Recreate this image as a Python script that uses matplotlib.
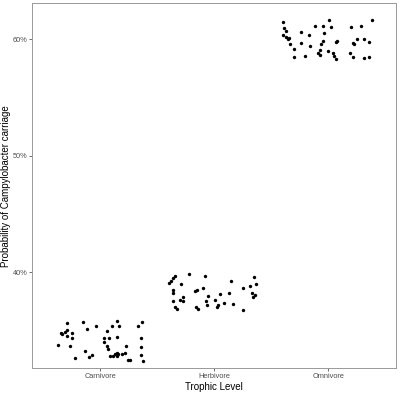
import numpy as np
import matplotlib
matplotlib.use("Agg")
from matplotlib import pyplot as plt
from matplotlib.ticker import PercentFormatter

plt.rcParams['font.family'] = ['Liberation Sans', 'DejaVu Sans']

categories = ['Carnivore', 'Herbivore', 'Omnivore']

# jitter offsets (fraction of category spacing) and probabilities
carn_jit = [-0.296, -0.150, -0.040, -0.113, -0.292, -0.307, -0.348, -0.339, -0.249, -0.290,
            -0.249, -0.374, -0.263, -0.136, -0.223, -0.070, -0.096, 0.145, 0.102, 0.163,
            0.330, 0.365, 0.061, 0.030, 0.078, 0.143, 0.035, 0.354, 0.061, 0.070,
            0.223, 0.360, 0.143, 0.130, 0.151, 0.087, 0.113, 0.148, 0.189, 0.221,
            0.354, 0.243, 0.261, 0.374]
carn_val = [0.3567, 0.3571, 0.3536, 0.3513, 0.3502, 0.3490, 0.3479, 0.3470, 0.3482, 0.3456,
            0.3436, 0.3379, 0.3367, 0.3322, 0.3267, 0.3288, 0.3273, 0.3585, 0.3542, 0.3539,
            0.3542, 0.3573, 0.3494, 0.3436, 0.3436, 0.3445, 0.3402, 0.3439, 0.3365, 0.3344,
            0.3367, 0.3361, 0.3310, 0.3296, 0.3299, 0.3284, 0.3282, 0.3279, 0.3299, 0.3305,
            0.3293, 0.3247, 0.3247, 0.3239]

herb_jit = [-0.342, -0.362, -0.379, -0.397, -0.220, -0.078, -0.292, -0.098, -0.148, -0.170,
            -0.359, -0.359, -0.057, -0.275, -0.304, -0.270, -0.359, -0.070, -0.066, -0.348,
            -0.330, -0.159, -0.142, 0.010, 0.351, 0.363, 0.310, 0.145, 0.250, 0.047,
            0.130, 0.334, 0.357, 0.345, 0.084, 0.169, 0.035, 0.023, 0.252]
herb_val = [0.3968, 0.3951, 0.3928, 0.3908, 0.3985, 0.3968, 0.3900, 0.3865, 0.3848, 0.3837,
            0.3848, 0.3822, 0.3794, 0.3785, 0.3765, 0.3756, 0.3751, 0.3751, 0.3717, 0.3700,
            0.3688, 0.3702, 0.3688, 0.3765, 0.3957, 0.3900, 0.3882, 0.3925, 0.3863, 0.3816,
            0.3820, 0.3820, 0.3808, 0.3785, 0.3739, 0.3730, 0.3717, 0.3702, 0.3674]

omni_jit = [-0.394, -0.383, -0.368, -0.400, -0.371, -0.353, -0.344, -0.333, -0.296, -0.296,
            -0.237, -0.168, -0.235, -0.200, -0.157, -0.111, -0.048, 0.010, 0.028, -0.037,
            -0.044, -0.063, -0.072, -0.087, -0.068, -0.003, 0.039, 0.050, 0.073, 0.076,
            0.067, 0.202, 0.293, 0.386, 0.215, 0.228, 0.257, 0.313, 0.357, 0.189,
            0.215, 0.315, 0.360]
omni_val = [0.6149, 0.6093, 0.6071, 0.6034, 0.6017, 0.6005, 0.6014, 0.5960, 0.5914, 0.5848,
            0.6063, 0.6039, 0.5967, 0.5859, 0.5941, 0.6116, 0.6116, 0.6161, 0.6106, 0.6052,
            0.5985, 0.5955, 0.5906, 0.5878, 0.5863, 0.5895, 0.5878, 0.5859, 0.5833, 0.5985,
            0.5977, 0.6104, 0.6114, 0.6164, 0.5971, 0.5960, 0.6005, 0.6000, 0.5977, 0.5881,
            0.5846, 0.5837, 0.5850]

groups = [(carn_jit, carn_val), (herb_jit, herb_val), (omni_jit, omni_val)]

fig = plt.figure(figsize=(4, 4), dpi=100)
ax = fig.add_axes([0.08, 0.079, 0.911, 0.913])

for i, (jit, val) in enumerate(groups):
    ax.scatter(i + 1 + np.array(jit), val, s=6, color='black', linewidths=0, zorder=3)

ax.set_xlim(0.4, 3.6)
ax.set_ylim(0.3176, 0.6309)
ax.set_xticks([1, 2, 3])
ax.set_xticklabels(categories)
ax.set_yticks([0.4, 0.5, 0.6])
ax.yaxis.set_major_formatter(PercentFormatter(1.0, decimals=0))

ax.tick_params(axis='both', labelsize=5.3, labelcolor='#4d4d4d', length=2,
               width=0.5, color='#333333', pad=1.2)
for s in ax.spines.values():
    s.set_color('#999999')
    s.set_linewidth(0.7)

ax.set_xlabel('Trophic Level', fontsize=7, labelpad=1.5)
ax.set_ylabel('Probability of Campylobacter carriage', fontsize=7, labelpad=1.5)

fig.savefig('out.png', dpi=100)
